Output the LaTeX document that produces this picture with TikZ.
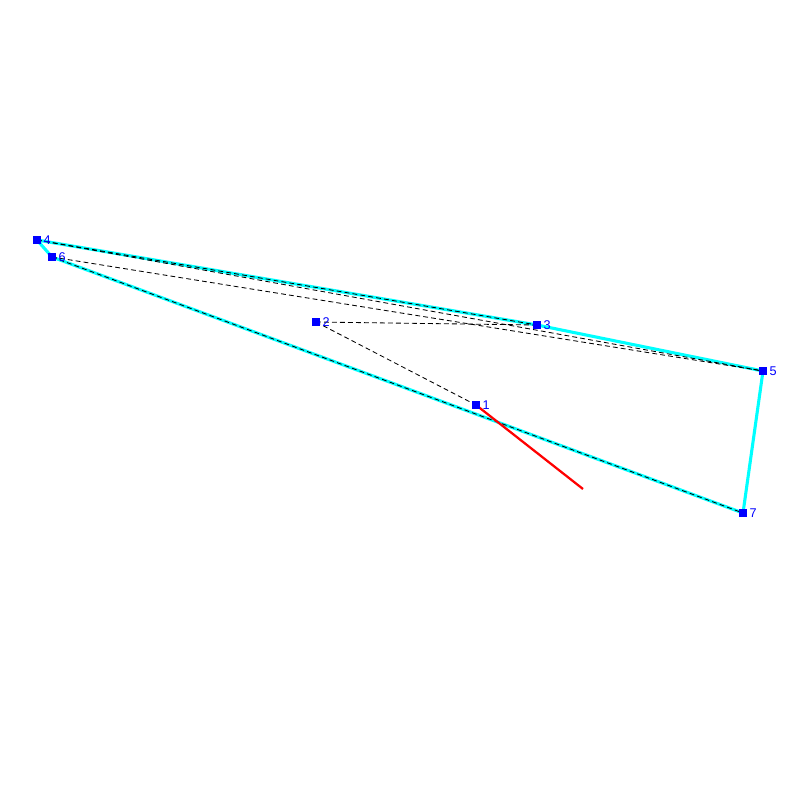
\documentclass[tikz,border=0pt]{standalone}
\usepackage{fontspec}
\setsansfont{Liberation Sans}
\usetikzlibrary{backgrounds}
\definecolor{hullcyan}{RGB}{0,255,255}
\tikzset{
 vertex/.style={rectangle,fill=blue,minimum size=2mm,inner sep=0,label={[vlabel]right:#1}},
 vlabel/.style={text=blue,font=\sffamily\fontsize{9}{9}\selectfont,inner sep=0,label distance=.5mm},
 hull/.style={hullcyan,line width=2.2pt,line join=round},
 link/.style={black,dash pattern=on 1.2mm off .8mm,line width=.6pt},
 ray/.style={red,line width=1.6pt}
}
\begin{document}
\begin{tikzpicture}[x=.25mm,y=-.25mm]
\path[use as bounding box] (0,0) rectangle (800,800);
\node[vertex=1] (v1) at (476,405) {};
\node[vertex=2] (v2) at (316,322) {};
\node[vertex=3] (v3) at (537,325) {};
\node[vertex=4] (v4) at (37,240) {};
\node[vertex=5] (v5) at (763,371) {};
\node[vertex=6] (v6) at (52,257) {};
\node[vertex=7] (v7) at (743,513) {};
\coordinate (rayend) at (583,489);
\begin{scope}[on background layer]
\draw[hull] (v4.center) -- (v3.center) -- (v5.center) -- (v7.center) -- (v6.center) -- cycle;
\foreach \a/\b in {2/1,2/3,4/3,4/5,6/5,6/7}
  \draw[link] (v\a.center) -- (v\b.center);
\draw[ray] (v1.center) -- (rayend);
\end{scope}
\end{tikzpicture}
\end{document}
